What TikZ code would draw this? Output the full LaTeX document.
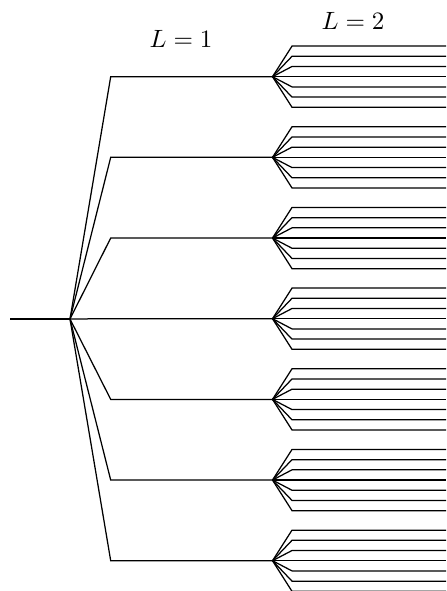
\documentclass[tikz,border=0pt]{standalone}
\usetikzlibrary{calc}
\tikzset{
    branch/.style={draw=black, line width=0.5pt, line join=miter},
    levellabel/.style={font=\normalsize, inner sep=0pt}
}
\begin{document}
\begin{tikzpicture}[x=0.4pt, y=-0.4pt]
    \useasboundingbox (0,0) rectangle (446,591);
    % input and root
    \coordinate (in) at (10,319);
    \coordinate (root) at (70,319);
    \draw[branch] (in) -- (root);
    % level 1 branches and level 2 fans
    \foreach \i in {1,...,7} {
        \pgfmathsetmacro{\yy}{76.7+80.67*(\i-1)}
        \coordinate (bend\i) at (110.7,\yy);
        \coordinate (hub\i) at (272.5,\yy);
        \draw[branch] (root) -- (bend\i) -- (hub\i);
        \foreach \j in {1,...,7} {
            \pgfmathsetmacro{\off}{10.2*(\j-4)}
            \coordinate (fan\i\j) at (292,\yy+\off);
            \coordinate (leaf\i\j) at (446,\yy+\off);
            \draw[branch] (hub\i) -- (fan\i\j) -- (leaf\i\j);
        }
    }
    \node[levellabel] (lab1) at (181,39) {$L=1$};
    \node[levellabel] (lab2) at (353,21) {$L=2$};
\end{tikzpicture}
\end{document}
